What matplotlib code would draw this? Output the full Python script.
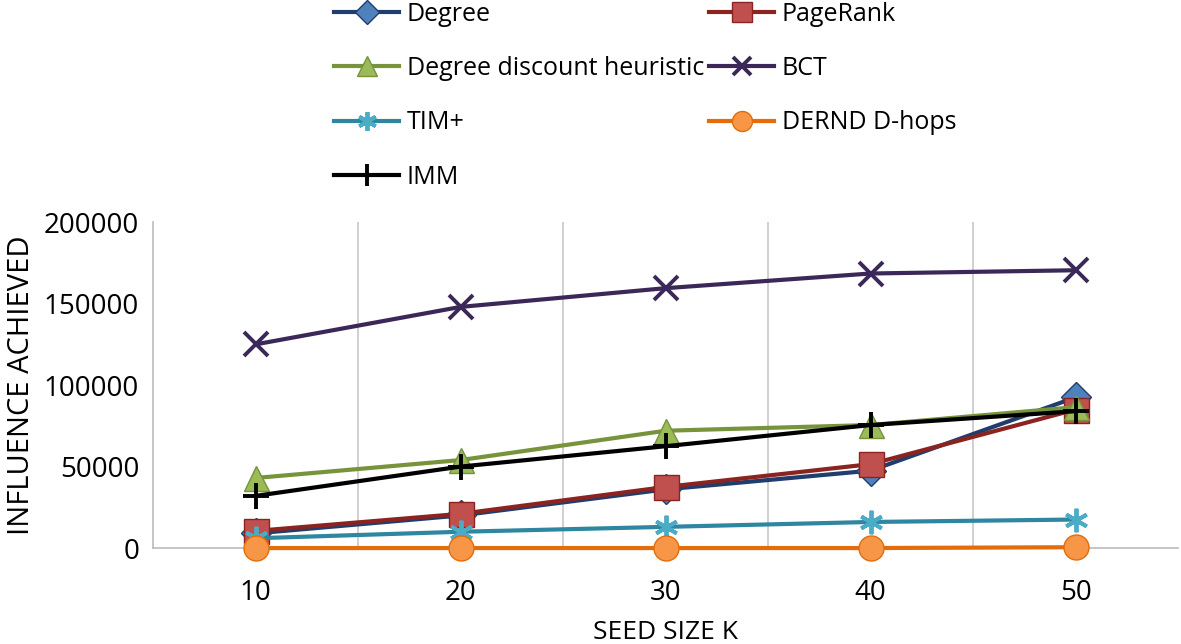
import matplotlib.pyplot as plt
import numpy as np

plt.rcParams['font.family'] = ['Open Sans', 'DejaVu Sans']

# data
seed_sizes = ['10', '20', '30', '40', '50']
degree = [9000, 20000, 36000, 47500, 92500]
pagerank = [10500, 21000, 37500, 51500, 85000]
degree_discount = [43000, 54000, 72000, 75500, 86500]
bct = [125000, 148000, 159500, 168500, 170500]
tim_plus = [6000, 10000, 13000, 16000, 17500]
dernd = [0, 0, 0, 0, 500]
imm = [32000, 50000, 62500, 75500, 84000]

fig = plt.figure(figsize=(11.81, 6.44), dpi=100)
ax = fig.add_axes([0.1296, 0.149, 0.868, 0.506])

x = np.arange(len(seed_sizes))

series = [
    ('Degree', degree, dict(color='#1F3E6E', marker='D', ms=15, mfc='#4F81BD', mec='#1F3E6E')),
    ('PageRank', pagerank, dict(color='#8B2421', marker='s', ms=18, mfc='#C0504D', mec='#8B2421')),
    ('Degree discount heuristic', degree_discount, dict(color='#77933C', marker='^', ms=18, mfc='#9BBB59', mec='#77933C')),
    ('BCT', bct, dict(color='#3B2858', marker='x', ms=17, mew=2.8)),
    ('TIM+', tim_plus, dict(color='#2E86A0', marker=(6, 2, 0), ms=17, mew=2.8, mec='#4BACC6')),
    ('DERND D-hops', dernd, dict(color='#E46C0A', marker='o', ms=18, mfc='#F79646', mec='#E46C0A')),
    ('IMM', imm, dict(color='black', marker='+', ms=19, mew=2.8)),
]

handles = {}
for name, vals, style in series:
    h, = ax.plot(x, vals, lw=3.0, label=name, clip_on=False, zorder=3, **style)
    handles[name] = h

ax.set_xlim(-0.5, 4.5)
ax.set_ylim(0, 200000)
ax.set_yticks([0, 50000, 100000, 150000, 200000])
ax.set_xticks(x)
ax.set_xticklabels(seed_sizes)
ax.set_xticks(np.arange(0.5, 4.5, 1), minor=True)
ax.grid(True, axis='x', which='minor', color='#C8C8C8', lw=1.2)
ax.tick_params(axis='both', which='both', length=0, labelsize=20, colors='black', pad=10)
ax.tick_params(axis='x', pad=22)

for side in ['top', 'right']:
    ax.spines[side].set_visible(False)
ax.spines['left'].set_color('#BBBBBB')
ax.spines['bottom'].set_color('#BBBBBB')
ax.spines['left'].set_linewidth(1.2)
ax.spines['bottom'].set_linewidth(1.2)

ax.set_ylabel('INFLUENCE ACHIEVED', fontsize=21, labelpad=6)
ax.set_xlabel('SEED SIZE K', fontsize=19, labelpad=10)

order = ['Degree', 'Degree discount heuristic', 'TIM+', 'IMM',
         'PageRank', 'BCT', 'DERND D-hops']
fig.legend([handles[n] for n in order], order, ncol=2, loc='upper left',
           bbox_to_anchor=(0.264, 1.032), frameon=False, fontsize=18,
           handlelength=2.6, handletextpad=0.3, columnspacing=0.2,
           labelspacing=1.17, markerscale=0.8)

fig.savefig('out.png', dpi=100)
